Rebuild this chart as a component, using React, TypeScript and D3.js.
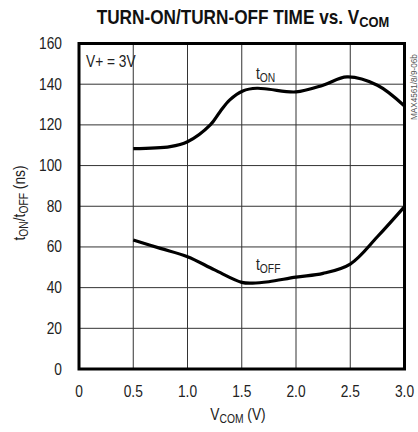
import React from "react";
import * as d3 from "d3";

// V_COM sample points (V)
const tOnV = [0.5, 0.84, 1.0, 1.21, 1.3, 1.39, 1.51, 1.64, 1.75, 2.0, 2.25, 2.47, 2.75, 3.0];
// Turn-on time (ns)
const tOnNs = [108.3, 109.3, 111.7, 120, 126.5, 132.3, 136.7, 138, 137.5, 136.2, 139.5, 143.6, 139.5, 129.3];

const tOffV = [0.5, 0.75, 1.0, 1.25, 1.5, 1.6, 1.75, 2.0, 2.25, 2.5, 2.75, 3.0];
// Turn-off time (ns)
const tOffNs = [63.4, 59.3, 55.2, 48.7, 42.6, 42.2, 42.9, 45.2, 47, 51.6, 65, 79.8];

const xTicks = [0, 0.5, 1.0, 1.5, 2.0, 2.5, 3.0];
const xTickLabels = ["0", "0.5", "1.0", "1.5", "2.0", "2.5", "3.0"];
const yTicks = [0, 20, 40, 60, 80, 100, 120, 140, 160];

const FONT = "'Liberation Sans', Arial, sans-serif";
// horizontal squeeze to get a condensed look
const SX = 0.86;

type TProps = {
  x: number;
  y: number;
  size: number;
  anchor?: "start" | "middle" | "end";
  rotate?: number;
  weight?: string;
  fill?: string;
  children: React.ReactNode;
};

function T({ x, y, size, anchor = "start", rotate = 0, weight = "normal", fill = "#222", children }: TProps) {
  return (
    <text
      transform={`translate(${x},${y}) rotate(${rotate}) scale(${SX},1)`}
      textAnchor={anchor}
      fontSize={size}
      fontWeight={weight}
      fill={fill}
    >
      {children}
    </text>
  );
}

export default function App() {
  const W = 418;
  const H = 432;
  const left = 79;
  const right = 404.5;
  const top = 43.5;
  const bottom = 369;

  const x = d3.scaleLinear().domain([0, 3]).range([left, right]);
  const y = d3.scaleLinear().domain([0, 160]).range([bottom, top]);

  const line = d3
    .line<[number, number]>()
    .x((d) => x(d[0]))
    .y((d) => y(d[1]))
    .curve(d3.curveCatmullRom.alpha(0.5));

  const onPath = line(tOnV.map((v, i) => [v, tOnNs[i]]) as [number, number][]) || "";
  const offPath = line(tOffV.map((v, i) => [v, tOffNs[i]]) as [number, number][]) || "";

  return (
    <svg
      width={W}
      height={H}
      style={{ position: "absolute", left: 0, top: 0, background: "#fff" }}
      fontFamily={FONT}
    >
      {/* title */}
      <T x={243} y={24} size={20} anchor="middle" weight="bold" fill="#111">
        TURN-ON/TURN-OFF TIME vs. V<tspan fontSize={15} dy={3}>COM</tspan>
      </T>

      {/* grid */}
      {xTicks.slice(1, -1).map((t) => (
        <line key={"gx" + t} x1={x(t)} x2={x(t)} y1={top} y2={bottom} stroke="#333" strokeWidth={1} />
      ))}
      {yTicks.slice(1, -1).map((t) => (
        <line key={"gy" + t} x1={left} x2={right} y1={y(t)} y2={y(t)} stroke="#333" strokeWidth={1} />
      ))}

      {/* curves */}
      <path d={onPath} fill="none" stroke="#000" strokeWidth={3.2} />
      <path d={offPath} fill="none" stroke="#000" strokeWidth={3.2} />

      {/* frame */}
      <rect x={left} y={top} width={right - left} height={bottom - top} fill="none" stroke="#000" strokeWidth={3} />

      {/* y tick labels */}
      {yTicks.map((t) => (
        <T key={"yl" + t} x={62} y={y(t) + 5.5} size={16} anchor="end">
          {t}
        </T>
      ))}
      {/* x tick labels */}
      {xTicks.map((t, i) => (
        <T key={"xl" + t} x={x(t)} y={397} size={16} anchor="middle">
          {xTickLabels[i]}
        </T>
      ))}

      {/* axis titles */}
      <T x={238} y={420} size={16} anchor="middle">
        V<tspan fontSize={12} dy={3}>COM</tspan>
        <tspan dy={-3}> (V)</tspan>
      </T>
      <T x={25} y={203} size={16} anchor="middle" rotate={-90}>
        t<tspan fontSize={12} dy={3}>ON</tspan>
        <tspan dy={-3}>/t</tspan>
        <tspan fontSize={12} dy={3}>OFF</tspan>
        <tspan dy={-3}> (ns)</tspan>
      </T>

      {/* annotations */}
      <T x={86} y={66.5} size={16}>V+ = 3V</T>
      <T x={256} y={78.5} size={16}>
        t<tspan fontSize={12} dy={3}>ON</tspan>
      </T>
      <T x={256} y={270} size={16}>
        t<tspan fontSize={12} dy={3}>OFF</tspan>
      </T>

      {/* part number */}
      <T x={417} y={120} size={9.5} rotate={-90} fill="#555">
        MAX4561/8/9-06b
      </T>
    </svg>
  );
}
